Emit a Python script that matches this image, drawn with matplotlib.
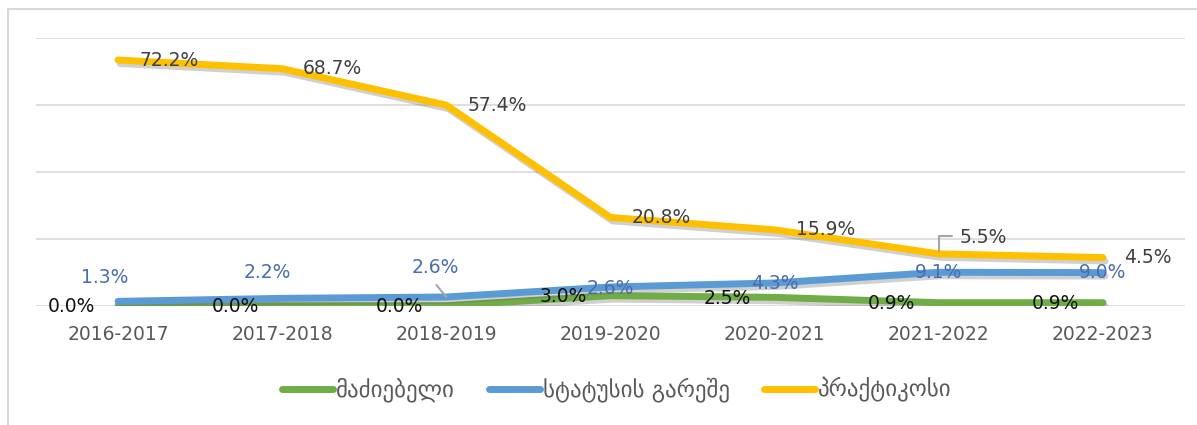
import numpy as np
import matplotlib
matplotlib.use("Agg")
import matplotlib.pyplot as plt
import matplotlib.patheffects as pe
from matplotlib.lines import Line2D

plt.rcParams['font.family'] = ['DejaVu Sans', 'Noto Sans']

years = ['2016-2017', '2017-2018', '2018-2019', '2019-2020', '2020-2021', '2021-2022', '2022-2023']
madziebeli = [0.0, 0.0, 0.0, 3.0, 2.5, 0.9, 0.9]
statusis_gareshe = [1.3, 2.2, 2.6, 2.6, 4.3, 9.1, 9.0]
praktikosi = [72.2, 68.7, 57.4, 20.8, 15.9, 5.5, 4.5]
series_names = ['მაძიებელი', 'სტატუსის გარეშე', 'პრაქტიკოსი']

colors = ['#70AD47', '#5B9BD5', '#FFC000']
label_colors = ['#111111', '#4A6DB0', '#404040']

# stacked line chart (cumulative)
green_y = np.array(madziebeli)
blue_y = green_y + np.array(statusis_gareshe)
yellow_y = blue_y + np.array(praktikosi)

fig = plt.figure(figsize=(11.97, 4.25), dpi=100)
ax = fig.add_axes([36/1197, 1-305.7/425, 1149/1197, 267.4/425])
x = np.arange(len(years))

shadow = [pe.SimpleLineShadow(offset=(1.5, -2.5), shadow_color='#666666', alpha=0.3), pe.Normal()]
for yy, c, name in zip([green_y, blue_y, yellow_y], colors, series_names):
    ax.plot(x, yy, color=c, lw=5, solid_capstyle='round', solid_joinstyle='round',
            path_effects=shadow, label=name, zorder=3)

ax.set_xlim(-0.5, len(years) - 0.5)
ax.set_ylim(0, 80)
ax.set_yticks([0, 20, 40, 60, 80])
ax.yaxis.grid(True, color='#d9d9d9', lw=1.2)
ax.set_axisbelow(True)
ax.tick_params(axis='y', left=False, labelleft=False)
ax.tick_params(axis='x', length=0, pad=14, labelsize=13.5, labelcolor='#595959')
ax.set_xticks(x)
ax.set_xticklabels(years)
for s in ax.spines.values():
    s.set_visible(False)

fs = 13.5
# green labels: left of point
for i, v in enumerate(madziebeli):
    ax.annotate(f'{v:.1f}%', (x[i], green_y[i]), xytext=(-47, -1), textcoords='offset pixels',
                ha='center', va='center', fontsize=fs, color=label_colors[0], zorder=5)

# blue labels
blue_off = [(-13, 24), (-15, 26), (-11, 30), (0, -2), (0, -1), (0, 0), (0, 0)]
for i, v in enumerate(statusis_gareshe):
    dx, dy = blue_off[i]
    ax.annotate(f'{v:.1f}%', (x[i], blue_y[i]), xytext=(dx, dy), textcoords='offset pixels',
                ha='center', va='center', fontsize=fs, color=label_colors[1], zorder=5)
ax.annotate('', (x[2], blue_y[2]), xytext=(-10, 12), textcoords='offset pixels',
            arrowprops=dict(arrowstyle='-', color='#a6a6a6', lw=1.5, shrinkA=0, shrinkB=0), zorder=4)

# yellow labels: right of point
for i, v in enumerate(praktikosi):
    dy = 16 if i == 5 else 0
    ax.annotate(f'{v:.1f}%', (x[i], yellow_y[i]), xytext=(21, dy), textcoords='offset pixels',
                ha='left', va='center', fontsize=fs, color=label_colors[2], zorder=5)
ax.annotate('', (x[5], yellow_y[5]), xytext=(13, 18), textcoords='offset pixels',
            arrowprops=dict(arrowstyle='-', color='#a6a6a6', lw=1.5, shrinkA=0, shrinkB=2,
                            connectionstyle='angle,angleA=180,angleB=90,rad=0'), zorder=4)

leg = fig.legend(loc='center', bbox_to_anchor=(617/1197, 1-390/425), ncol=3, frameon=False,
                 fontsize=16.5, handlelength=2.2, handletextpad=0.15, columnspacing=1.5)
for t in leg.get_texts():
    t.set_color('#595959')
for h in leg.get_lines():
    h.set_path_effects([])
    h.set_linewidth(5)

# outer chart frame (only top and left edges visible in the crop)
fig.add_artist(Line2D([8/1197, 1], [1-9/425, 1-9/425], transform=fig.transFigure, color='#d9d9d9', lw=1.5))
fig.add_artist(Line2D([8/1197, 8/1197], [0, 1-9/425], transform=fig.transFigure, color='#d9d9d9', lw=1.5))

fig.savefig('out.png', dpi=100)
